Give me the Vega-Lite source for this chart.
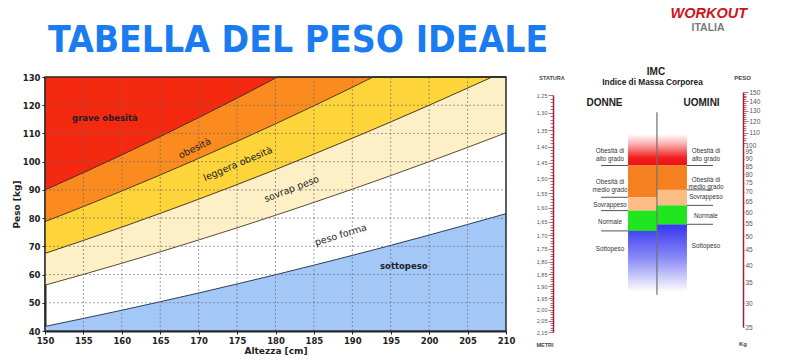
{
  "$schema": "https://vega.github.io/schema/vega-lite/v6.json",
  "width": 800,
  "height": 360,
  "autosize": {"type": "none"},
  "padding": 0,
  "background": "#ffffff",
  "config": {"view": {"stroke": null}},
  "datasets": {
    "fasce": [
      {"altezza": 150, "b185": 41.63, "b25": 56.25, "b30": 67.5, "b35": 78.75, "b40": 90},
      {"altezza": 155, "b185": 44.45, "b25": 60.06, "b30": 72.08, "b35": 84.09, "b40": 96.1},
      {"altezza": 160, "b185": 47.36, "b25": 64, "b30": 76.8, "b35": 89.6, "b40": 102.4},
      {"altezza": 165, "b185": 50.37, "b25": 68.06, "b30": 81.68, "b35": 95.29, "b40": 108.9},
      {"altezza": 170, "b185": 53.47, "b25": 72.25, "b30": 86.7, "b35": 101.15, "b40": 115.6},
      {"altezza": 175, "b185": 56.66, "b25": 76.56, "b30": 91.88, "b35": 107.19, "b40": 122.5},
      {"altezza": 180, "b185": 59.94, "b25": 81, "b30": 97.2, "b35": 113.4, "b40": 129.6},
      {"altezza": 180.3, "b185": 60.14, "b25": 81.27, "b30": 97.52, "b35": 113.78, "b40": 130},
      {"altezza": 185, "b185": 63.32, "b25": 85.56, "b30": 102.68, "b35": 119.79, "b40": 130},
      {"altezza": 190, "b185": 66.79, "b25": 90.25, "b30": 108.3, "b35": 126.35, "b40": 130},
      {"altezza": 192.7, "b185": 68.7, "b25": 92.83, "b30": 111.4, "b35": 130, "b40": 130},
      {"altezza": 195, "b185": 70.35, "b25": 95.06, "b30": 114.08, "b35": 130, "b40": 130},
      {"altezza": 200, "b185": 74, "b25": 100, "b30": 120, "b35": 130, "b40": 130},
      {"altezza": 205, "b185": 77.75, "b25": 105.06, "b30": 126.08, "b35": 130, "b40": 130},
      {"altezza": 208.2, "b185": 80.19, "b25": 108.37, "b30": 130, "b35": 130, "b40": 130},
      {"altezza": 210, "b185": 81.59, "b25": 110.25, "b30": 130, "b35": 130, "b40": 130}
    ],
    "griglia_peso": [{"peso": 50}, {"peso": 60}, {"peso": 70}, {"peso": 80}, {"peso": 90}, {"peso": 100}, {"peso": 110}, {"peso": 120}],
    "griglia_altezza": [{"altezza": 155}, {"altezza": 160}, {"altezza": 165}, {"altezza": 170}, {"altezza": 175}, {"altezza": 180}, {"altezza": 185}, {"altezza": 190}, {"altezza": 195}, {"altezza": 200}, {"altezza": 205}],
    "etichette_fasce": [
      {"etichetta": "grave obesità", "altezza": 157.8, "peso": 115.5},
      {"etichetta": "obesità", "altezza": 169.5, "peso": 104.7},
      {"etichetta": "leggera obesità", "altezza": 175.1, "peso": 99.2},
      {"etichetta": "sovrap peso", "altezza": 182.1, "peso": 90.3},
      {"etichetta": "peso forma", "altezza": 188.5, "peso": 74.0},
      {"etichetta": "sottopeso", "altezza": 196.7, "peso": 63.0}
    ],
    "imc_categorie": [
      {"sesso": "DONNE", "categoria": "Obesità di medio grado", "imc_min": 27.5, "imc_max": 40},
      {"sesso": "DONNE", "categoria": "Sovrappeso", "imc_min": 23.5, "imc_max": 27.5},
      {"sesso": "DONNE", "categoria": "Normale", "imc_min": 18.5, "imc_max": 23.5},
      {"sesso": "UOMINI", "categoria": "Obesità di medio grado", "imc_min": 30, "imc_max": 40},
      {"sesso": "UOMINI", "categoria": "Sovrappeso", "imc_min": 25, "imc_max": 30},
      {"sesso": "UOMINI", "categoria": "Normale", "imc_min": 20, "imc_max": 25}
    ],
    "imc_linee": [
      {"sesso": "DONNE", "imc": 40}, {"sesso": "DONNE", "imc": 27.5}, {"sesso": "DONNE", "imc": 23.5}, {"sesso": "DONNE", "imc": 18.5},
      {"sesso": "UOMINI", "imc": 40}, {"sesso": "UOMINI", "imc": 30}, {"sesso": "UOMINI", "imc": 25}, {"sesso": "UOMINI", "imc": 20}
    ],
    "imc_etichette": [
      {"sesso": "DONNE", "testo": "Obesità di\nalto grado", "imc": 47.2},
      {"sesso": "DONNE", "testo": "Obesità di\nmedio grado", "imc": 32.9},
      {"sesso": "DONNE", "testo": "Sovrappeso", "imc": 25.1},
      {"sesso": "DONNE", "testo": "Normale", "imc": 20.5},
      {"sesso": "DONNE", "testo": "Sottopeso", "imc": 14.9},
      {"sesso": "UOMINI", "testo": "Obesità di\nalto grado", "imc": 47.2},
      {"sesso": "UOMINI", "testo": "Obesità di\nmedio grado", "imc": 33.9},
      {"sesso": "UOMINI", "testo": "Sovrappeso", "imc": 27.6},
      {"sesso": "UOMINI", "testo": "Normale", "imc": 22.05},
      {"sesso": "UOMINI", "testo": "Sottopeso", "imc": 15.4}
    ]
  },
  "resolve": {"scale": {"x": "independent", "y": "independent"}, "axis": {"x": "independent", "y": "independent"}},
  "layer": [
    {
      "resolve": {"scale": {"x": "shared", "y": "shared"}, "axis": {"x": "independent", "y": "independent"}},
      "layer": [
        {
          "data": {"name": "fasce"},
          "mark": {"type": "area", "color": "#a3c7f7"},
          "encoding": {
            "x": {
              "field": "altezza", "type": "quantitative",
              "scale": {"domain": [150, 210], "range": [45, 506], "nice": false, "zero": false},
              "axis": {
                "orient": "bottom", "offset": -29, "title": "Altezza [cm]",
                "values": [150, 155, 160, 165, 170, 175, 180, 185, 190, 195, 200, 205, 210],
                "grid": false,
                "domainColor": "#1b2030", "domainWidth": 2, "tickColor": "#1b2030", "tickSize": 3,
                "labelFont": "DejaVu Sans", "labelFontWeight": "bold", "labelFontSize": 8.5, "labelColor": "#222222", "labelPadding": 2, "labelFlush": false,
                "titleFont": "DejaVu Sans", "titleFontWeight": "bold", "titleFontSize": 9, "titleColor": "#222222", "titlePadding": 2
              }
            },
            "y": {
              "field": "b185", "type": "quantitative",
              "scale": {"domain": [40, 130], "range": [331, 77], "nice": false, "zero": false},
              "axis": {
                "orient": "left", "offset": -45, "title": "Peso [kg]",
                "values": [40, 50, 60, 70, 80, 90, 100, 110, 120, 130],
                "grid": false,
                "domainColor": "#1b2030", "domainWidth": 2, "tickColor": "#1b2030", "tickSize": 3,
                "labelFont": "DejaVu Sans", "labelFontWeight": "bold", "labelFontSize": 8.5, "labelColor": "#222222", "labelPadding": 2, "labelFlush": false,
                "titleFont": "DejaVu Sans", "titleFontWeight": "bold", "titleFontSize": 9, "titleColor": "#222222", "titlePadding": 1
              }
            },
            "y2": {"datum": 40}
          }
        },
        {
          "data": {"name": "fasce"},
          "mark": {"type": "area", "color": "#fdf0c6"},
          "encoding": {
            "x": {"field": "altezza", "type": "quantitative", "axis": null},
            "y": {"field": "b25", "type": "quantitative", "axis": null},
            "y2": {"field": "b30"}
          }
        },
        {
          "data": {"name": "fasce"},
          "mark": {"type": "area", "color": "#fdd43a"},
          "encoding": {
            "x": {"field": "altezza", "type": "quantitative", "axis": null},
            "y": {"field": "b30", "type": "quantitative", "axis": null},
            "y2": {"field": "b35"}
          }
        },
        {
          "data": {"name": "fasce"},
          "mark": {"type": "area", "color": "#fb8a1f"},
          "encoding": {
            "x": {"field": "altezza", "type": "quantitative", "axis": null},
            "y": {"field": "b35", "type": "quantitative", "axis": null},
            "y2": {"field": "b40"}
          }
        },
        {
          "data": {"name": "fasce"},
          "mark": {"type": "area", "color": "#f4290f"},
          "encoding": {
            "x": {"field": "altezza", "type": "quantitative", "axis": null},
            "y": {"field": "b40", "type": "quantitative", "axis": null},
            "y2": {"datum": 130}
          }
        },
        {
          "data": {"name": "fasce"},
          "mark": {"type": "line", "color": "#2c3d5c", "strokeWidth": 1},
          "encoding": {
            "x": {"field": "altezza", "type": "quantitative", "axis": null},
            "y": {"field": "b185", "type": "quantitative", "axis": null}
          }
        },
        {
          "data": {"name": "fasce"},
          "mark": {"type": "line", "color": "#5a4a35", "strokeWidth": 1},
          "encoding": {
            "x": {"field": "altezza", "type": "quantitative", "axis": null},
            "y": {"field": "b25", "type": "quantitative", "axis": null}
          }
        },
        {
          "data": {"name": "fasce"},
          "mark": {"type": "line", "color": "#4a3a20", "strokeWidth": 1},
          "encoding": {
            "x": {"field": "altezza", "type": "quantitative", "axis": null},
            "y": {"field": "b30", "type": "quantitative", "axis": null}
          }
        },
        {
          "data": {"name": "fasce"},
          "mark": {"type": "line", "color": "#4a3a20", "strokeWidth": 1},
          "encoding": {
            "x": {"field": "altezza", "type": "quantitative", "axis": null},
            "y": {"field": "b35", "type": "quantitative", "axis": null}
          }
        },
        {
          "data": {"name": "fasce"},
          "mark": {"type": "line", "color": "#4a2a20", "strokeWidth": 1},
          "encoding": {
            "x": {"field": "altezza", "type": "quantitative", "axis": null},
            "y": {"field": "b40", "type": "quantitative", "axis": null}
          }
        },
        {
          "data": {"name": "griglia_peso"},
          "mark": {"type": "rule", "color": "#6a6a6a", "strokeWidth": 0.8, "strokeDash": [2, 2], "opacity": 0.8},
          "encoding": {
            "x": {"datum": 150, "type": "quantitative", "axis": null},
            "x2": {"datum": 210},
            "y": {"field": "peso", "type": "quantitative", "axis": null}
          }
        },
        {
          "data": {"name": "griglia_altezza"},
          "mark": {"type": "rule", "color": "#6a6a6a", "strokeWidth": 0.8, "strokeDash": [2, 2], "opacity": 0.8},
          "encoding": {
            "x": {"field": "altezza", "type": "quantitative", "axis": null},
            "y": {"datum": 40, "type": "quantitative", "axis": null},
            "y2": {"datum": 130}
          }
        },
        {
          "data": {"values": [{"cornice": "area del grafico"}]},
          "mark": {"type": "rect", "filled": false, "stroke": "#2a2a2a", "strokeWidth": 1.5},
          "encoding": {
            "x": {"datum": 150, "type": "quantitative", "axis": null},
            "x2": {"datum": 210},
            "y": {"datum": 40, "type": "quantitative", "axis": null},
            "y2": {"datum": 130}
          }
        },
        {
          "data": {"name": "etichette_fasce"},
          "transform": [{"filter": "datum.etichetta == 'grave obesità' || datum.etichetta == 'sottopeso'"}],
          "mark": {"type": "text", "font": "DejaVu Sans", "fontWeight": "bold", "fontSize": 8.5, "color": "#1e1e2a", "align": "center", "baseline": "middle"},
          "encoding": {
            "x": {"field": "altezza", "type": "quantitative", "axis": null},
            "y": {"field": "peso", "type": "quantitative", "axis": null},
            "text": {"field": "etichetta"}
          }
        },
        {
          "data": {"name": "etichette_fasce"},
          "transform": [{"filter": "datum.etichetta == 'obesità'"}],
          "mark": {"type": "text", "font": "DejaVu Sans", "fontSize": 9.5, "color": "#222222", "align": "center", "baseline": "middle", "angle": 334},
          "encoding": {
            "x": {"field": "altezza", "type": "quantitative", "axis": null},
            "y": {"field": "peso", "type": "quantitative", "axis": null},
            "text": {"field": "etichetta"}
          }
        },
        {
          "data": {"name": "etichette_fasce"},
          "transform": [{"filter": "datum.etichetta == 'leggera obesità'"}],
          "mark": {"type": "text", "font": "DejaVu Sans", "fontSize": 9.5, "color": "#222222", "align": "center", "baseline": "middle", "angle": 337},
          "encoding": {
            "x": {"field": "altezza", "type": "quantitative", "axis": null},
            "y": {"field": "peso", "type": "quantitative", "axis": null},
            "text": {"field": "etichetta"}
          }
        },
        {
          "data": {"name": "etichette_fasce"},
          "transform": [{"filter": "datum.etichetta == 'sovrap peso'"}],
          "mark": {"type": "text", "font": "DejaVu Sans", "fontSize": 9.5, "color": "#222222", "align": "center", "baseline": "middle", "angle": 339},
          "encoding": {
            "x": {"field": "altezza", "type": "quantitative", "axis": null},
            "y": {"field": "peso", "type": "quantitative", "axis": null},
            "text": {"field": "etichetta"}
          }
        },
        {
          "data": {"name": "etichette_fasce"},
          "transform": [{"filter": "datum.etichetta == 'peso forma'"}],
          "mark": {"type": "text", "font": "DejaVu Sans", "fontSize": 9.5, "color": "#222222", "align": "center", "baseline": "middle", "angle": 343},
          "encoding": {
            "x": {"field": "altezza", "type": "quantitative", "axis": null},
            "y": {"field": "peso", "type": "quantitative", "axis": null},
            "text": {"field": "etichetta"}
          }
        },
        {
          "data": {"values": [{"titolo": "TABELLA DEL PESO IDEALE"}]},
          "mark": {"type": "text", "font": "DejaVu Sans Condensed", "fontWeight": "bold", "fontSize": 37, "color": "#1a7cf0", "align": "left", "baseline": "alphabetic"},
          "encoding": {
            "x": {"datum": 150.4, "type": "quantitative", "axis": null},
            "y": {"datum": 138.86, "type": "quantitative", "axis": null},
            "text": {"field": "titolo"}
          }
        },
        {
          "data": {"values": [{"logo": "WORKOUT"}]},
          "mark": {"type": "text", "font": "Liberation Sans", "fontWeight": "bold", "fontStyle": "italic", "fontSize": 14.5, "color": "#d0121b", "align": "center", "baseline": "alphabetic"},
          "encoding": {
            "x": {"datum": 236.4, "type": "quantitative", "axis": null},
            "y": {"datum": 150.9, "type": "quantitative", "axis": null},
            "text": {"field": "logo"}
          }
        },
        {
          "data": {"values": [{"logo": "ITALIA"}]},
          "mark": {"type": "text", "font": "Liberation Sans", "fontWeight": "bold", "fontSize": 10.5, "color": "#7a7a7a", "align": "center", "baseline": "alphabetic"},
          "encoding": {
            "x": {"datum": 236.3, "type": "quantitative", "axis": null},
            "y": {"datum": 146.3, "type": "quantitative", "axis": null},
            "text": {"field": "logo"}
          }
        }
      ]
    },
    {
      "resolve": {"scale": {"y": "independent"}, "axis": {"y": "independent"}},
      "layer": [
        {
          "data": {"values": [{"unita": "METRI"}]},
          "mark": {"type": "text", "font": "Liberation Sans", "fontWeight": "bold", "fontSize": 5.5, "color": "#444444", "align": "center", "baseline": "middle"},
          "encoding": {
            "x": {"datum": -4.2, "type": "quantitative", "scale": {"domain": [0, 100], "range": [553, 743], "nice": false, "zero": false}, "axis": null},
            "y": {
              "datum": 2.16, "type": "quantitative",
              "scale": {"type": "log", "domain": [1.25, 2.1], "range": [95, 332], "nice": false},
              "axis": {
                "orient": "left", "offset": -553, "title": "STATURA",
                "titleAngle": 0, "titleX": -1.5, "titleY": 77, "titleAlign": "center", "titleBaseline": "middle",
                "titleFont": "Liberation Sans", "titleFontSize": 5.5, "titleFontWeight": "bold", "titleColor": "#444444",
                "values": [1.25,1.26,1.27,1.28,1.29,1.3,1.31,1.32,1.33,1.34,1.35,1.36,1.37,1.38,1.39,1.4,1.41,1.42,1.43,1.44,1.45,1.46,1.47,1.48,1.49,1.5,1.51,1.52,1.53,1.54,1.55,1.56,1.57,1.58,1.59,1.6,1.61,1.62,1.63,1.64,1.65,1.66,1.67,1.68,1.69,1.7,1.71,1.72,1.73,1.74,1.75,1.76,1.77,1.78,1.79,1.8,1.81,1.82,1.83,1.84,1.85,1.86,1.87,1.88,1.89,1.9,1.91,1.92,1.93,1.94,1.95,1.96,1.97,1.98,1.99,2,2.01,2.02,2.03,2.04,2.05,2.06,2.07,2.08,2.09,2.1],
                "labelExpr": "abs(datum.value*20 - round(datum.value*20)) < 0.01 ? (datum.value > 2.09 ? '2,15' : replace(format(datum.value, '.2f'), '.', ',')) : ''",
                "labelOverlap": false, "labelFlush": false, "labelBound": false,
                "labelFont": "Liberation Sans", "labelFontSize": 5.5, "labelColor": "#555555", "labelPadding": 1,
                "grid": false,
                "domainColor": "#9e2236", "domainWidth": 1.5,
                "tickColor": "#b8485c", "tickWidth": 0.8,
                "tickSize": {"condition": {"test": "abs(datum.value*20 - round(datum.value*20)) < 0.01", "value": 5}, "value": 3}
              }
            },
            "text": {"field": "unita"}
          }
        },
        {
          "data": {"values": [{"unita": "Kg"}]},
          "mark": {"type": "text", "font": "Liberation Sans", "fontWeight": "bold", "fontSize": 6, "color": "#444444", "align": "center", "baseline": "middle"},
          "encoding": {
            "x": {"datum": 100, "type": "quantitative", "axis": null},
            "y": {
              "datum": 22, "type": "quantitative",
              "scale": {"type": "log", "domain": [25, 150], "range": [327, 92], "nice": false},
              "axis": {
                "orient": "right", "offset": -57, "title": "PESO",
                "titleAngle": 0, "titleX": -1, "titleY": 77, "titleAlign": "center", "titleBaseline": "middle",
                "titleFont": "Liberation Sans", "titleFontSize": 6, "titleFontWeight": "bold", "titleColor": "#444444",
                "values": [25,26,27,28,29,30,31,32,33,34,35,36,37,38,39,40,41,42,43,44,45,46,47,48,49,50,51,52,53,54,55,56,57,58,59,60,61,62,63,64,65,66,67,68,69,70,71,72,73,74,75,76,77,78,79,80,81,82,83,84,85,86,87,88,89,90,91,92,93,94,95,96,97,98,99,100,102,104,106,108,110,112,114,116,118,120,122,124,126,128,130,132,134,136,138,140,142,144,146,148,150],
                "labelExpr": "(datum.value <= 100 ? (datum.value % 5 == 0) : (datum.value % 10 == 0)) ? format(datum.value, 'd') : ''",
                "labelOverlap": false, "labelFlush": false, "labelBound": false,
                "labelFont": "Liberation Sans", "labelFontSize": 6.5, "labelColor": "#555555", "labelPadding": 1,
                "grid": false,
                "domainColor": "#9e2236", "domainWidth": 1.5,
                "tickColor": "#b8485c", "tickWidth": 0.8,
                "tickSize": {"condition": {"test": "datum.value <= 100 ? (datum.value % 5 == 0) : (datum.value % 10 == 0)", "value": 5}, "value": 3}
              }
            },
            "text": {"field": "unita"}
          }
        },
        {
          "layer": [
            {
              "data": {"values": [{"fascia": "Obesità di alto grado"}]},
              "mark": {"type": "rect", "fill": {"gradient": "linear", "x1": 0, "y1": 0, "x2": 0, "y2": 1, "stops": [{"offset": 0, "color": "#ffffff"}, {"offset": 0.3, "color": "#fbb4b4"}, {"offset": 0.75, "color": "#f22020"}, {"offset": 1, "color": "#ee1111"}]}},
              "encoding": {
                "x": {"datum": 39.5, "type": "quantitative", "axis": null},
                "x2": {"datum": 70.5},
                "y": {"datum": 40, "type": "quantitative", "scale": {"type": "log", "domain": [9, 58], "range": [292, 134], "nice": false}, "axis": null},
                "y2": {"datum": 58}
              }
            },
            {
              "data": {"values": [{"fascia": "Sottopeso"}]},
              "mark": {"type": "rect", "fill": {"gradient": "linear", "x1": 0, "y1": 0, "x2": 0, "y2": 1, "stops": [{"offset": 0, "color": "#3535f0"}, {"offset": 0.5, "color": "#8a8af6"}, {"offset": 1, "color": "#ffffff"}]}},
              "encoding": {
                "x": {"datum": 39.5, "type": "quantitative", "axis": null},
                "x2": {"datum": 70.5},
                "y": {"datum": 20, "type": "quantitative", "axis": null},
                "y2": {"datum": 9}
              }
            },
            {
              "data": {"name": "imc_categorie"},
              "transform": [{"filter": "datum.sesso == 'DONNE'"}],
              "mark": {"type": "rect"},
              "encoding": {
                "x": {"datum": 39.5, "type": "quantitative", "axis": null},
                "x2": {"datum": 54.7},
                "y": {"field": "imc_min", "type": "quantitative", "axis": null},
                "y2": {"field": "imc_max"},
                "color": {"field": "categoria", "type": "nominal", "scale": {"domain": ["Obesità di medio grado", "Sovrappeso", "Normale"], "range": ["#f4801f", "#fbbd85", "#1fe61f"]}, "legend": null}
              }
            },
            {
              "data": {"name": "imc_categorie"},
              "transform": [{"filter": "datum.sesso == 'UOMINI'"}],
              "mark": {"type": "rect"},
              "encoding": {
                "x": {"datum": 54.7, "type": "quantitative", "axis": null},
                "x2": {"datum": 70.5},
                "y": {"field": "imc_min", "type": "quantitative", "axis": null},
                "y2": {"field": "imc_max"},
                "color": {"field": "categoria", "type": "nominal", "legend": null}
              }
            },
            {
              "data": {"values": [{"asse": "IMC"}]},
              "mark": {"type": "rule", "color": "#707070", "strokeWidth": 1.2},
              "encoding": {
                "x": {"datum": 54.7, "type": "quantitative", "axis": null},
                "y": {"datum": 75, "type": "quantitative", "axis": null},
                "y2": {"datum": 8.7}
              }
            },
            {
              "data": {"name": "imc_linee"},
              "transform": [{"filter": "datum.sesso == 'DONNE'"}],
              "mark": {"type": "rule", "color": "#555555", "strokeWidth": 1},
              "encoding": {
                "x": {"datum": 25.3, "type": "quantitative", "axis": null},
                "x2": {"datum": 39.5},
                "y": {"field": "imc", "type": "quantitative", "axis": null}
              }
            },
            {
              "data": {"name": "imc_linee"},
              "transform": [{"filter": "datum.sesso == 'UOMINI'"}],
              "mark": {"type": "rule", "color": "#555555", "strokeWidth": 1},
              "encoding": {
                "x": {"datum": 70.5, "type": "quantitative", "axis": null},
                "x2": {"datum": 84.2},
                "y": {"field": "imc", "type": "quantitative", "axis": null}
              }
            },
            {
              "data": {"name": "imc_etichette"},
              "transform": [{"filter": "datum.sesso == 'DONNE'"}],
              "mark": {"type": "text", "font": "Liberation Sans", "fontSize": 6.3, "color": "#333333", "align": "center", "baseline": "middle", "lineBreak": "\n", "lineHeight": 7.5},
              "encoding": {
                "x": {"datum": 30, "type": "quantitative", "axis": null},
                "y": {"field": "imc", "type": "quantitative", "axis": null},
                "text": {"field": "testo"}
              }
            },
            {
              "data": {"name": "imc_etichette"},
              "transform": [{"filter": "datum.sesso == 'UOMINI'"}],
              "mark": {"type": "text", "font": "Liberation Sans", "fontSize": 6.3, "color": "#333333", "align": "center", "baseline": "middle", "lineBreak": "\n", "lineHeight": 7.5},
              "encoding": {
                "x": {"datum": 80.5, "type": "quantitative", "axis": null},
                "y": {"field": "imc", "type": "quantitative", "axis": null},
                "text": {"field": "testo"}
              }
            },
            {
              "data": {"values": [{"intestazione": "IMC"}]},
              "mark": {"type": "text", "font": "Liberation Sans", "fontWeight": "bold", "fontSize": 10, "color": "#222222", "align": "center", "baseline": "middle"},
              "encoding": {
                "x": {"datum": 54.2, "type": "quantitative", "axis": null},
                "y": {"datum": 120.5, "type": "quantitative", "axis": null},
                "text": {"field": "intestazione"}
              }
            },
            {
              "data": {"values": [{"intestazione": "Indice di Massa Corporea"}]},
              "mark": {"type": "text", "font": "Liberation Sans", "fontWeight": "bold", "fontSize": 8.3, "color": "#222222", "align": "center", "baseline": "middle"},
              "encoding": {
                "x": {"datum": 52.4, "type": "quantitative", "axis": null},
                "y": {"datum": 105.9, "type": "quantitative", "axis": null},
                "text": {"field": "intestazione"}
              }
            },
            {
              "data": {"values": [{"sesso": "DONNE", "colonna": 27.1}, {"sesso": "UOMINI", "colonna": 78.2}]},
              "mark": {"type": "text", "font": "Liberation Sans", "fontWeight": "bold", "fontSize": 10, "color": "#222222", "align": "center", "baseline": "middle"},
              "encoding": {
                "x": {"field": "colonna", "type": "quantitative", "axis": null},
                "y": {"datum": 83.6, "type": "quantitative", "axis": null},
                "text": {"field": "sesso"}
              }
            }
          ]
        }
      ]
    }
  ]
}
